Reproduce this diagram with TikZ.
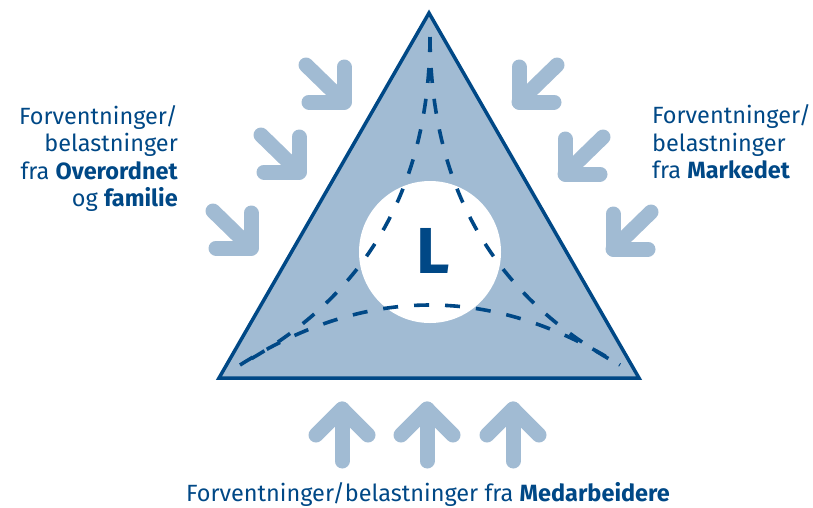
\documentclass[tikz,border=0pt]{standalone}
\usepackage{fontspec}
\setmainfont{Fira Sans}
\begin{document}
\definecolor{navy}{HTML}{004886}
\definecolor{paleblue}{HTML}{A1BBD3}
\begin{tikzpicture}[x=1pt,y=-1pt,
  pressure/.style={draw=paleblue,line width=15pt,line cap=round,line join=round},
  bond/.style={draw=navy,line width=3.6pt,dash pattern=on 15pt off 16pt},
  caption/.style={text=navy,inner sep=0pt,font=\fontsize{23.5}{27.5}\selectfont}]
\useasboundingbox (0,0) rectangle (813,507);

% triangle with the central circle
\coordinate (top) at (429,13);
\coordinate (bl) at (219,378);
\coordinate (br) at (639,378);
\filldraw[fill=paleblue,draw=navy,line width=3.5pt,line join=miter] (top) -- (bl) -- (br) -- cycle;
\node[circle,fill=white,minimum size=142pt,inner sep=0pt] (core) at (430,252) {};

% dashed ties between the corners
\coordinate (t0) at (430,37);
\coordinate (l0) at (240,365);
\coordinate (r0) at (620,365);
\draw[bond] (t0) .. controls (429.3,188) and (366,297) .. (l0);
\draw[bond] (t0) .. controls (430.7,188) and (494,297) .. (r0);
\draw[bond] (l0) .. controls (366.7,285) and (493.3,285) .. (r0);

\node[text=navy,inner sep=0pt,font=\fontsize{65}{65}\selectfont\bfseries] (lead) at (433,251) {L};

% pressure arrows from the upper left
\foreach \x/\y in {344/102,299/172,251/248}{
  \draw[pressure] (\x-38,\y-37) -- (\x,\y);
  \draw[pressure] (\x,\y-35) -- (\x,\y) -- (\x-35,\y);
}
% pressure arrows from the upper right
\foreach \x/\y in {519/102,565/174,613/249}{
  \draw[pressure] (\x+38,\y-37) -- (\x,\y);
  \draw[pressure] (\x,\y-35) -- (\x,\y) -- (\x+35,\y);
}
% pressure arrows from below
\foreach \x in {342,427,513}{
  \draw[pressure] (\x,461) -- (\x,409);
  \draw[pressure] (\x-26,435) -- (\x,409) -- (\x+26,435);
}

% captions
\node[caption,anchor=base east] (ol1) at (178,124) {Forventninger/};
\node[caption,anchor=base east] (ol2) at (178,151.5) {belastninger};
\node[caption,anchor=base east] (ol3) at (178,179) {fra \textbf{Overordnet}};
\node[caption,anchor=base east] (ol4) at (178,206.5) {og \textbf{familie}};

\node[caption,anchor=base west] (mr1) at (652,123.5) {Forventninger/};
\node[caption,anchor=base west] (mr2) at (652,151) {belastninger};
\node[caption,anchor=base west] (mr3) at (652,178.5) {fra \textbf{Markedet}};

\node[caption,anchor=base] (mb) at (428,501.5) {Forventninger/belastninger fra \textbf{Medarbeidere}};
\end{tikzpicture}
\end{document}
